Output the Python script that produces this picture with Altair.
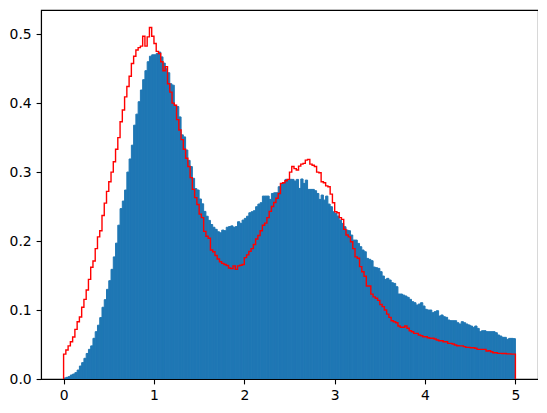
import altair as alt
import pandas as pd

BIN_W = 0.025
X_TICKS = [0, 1, 2, 3, 4, 5]
Y_TICKS = [0.0, 0.1, 0.2, 0.3, 0.4, 0.5]

blue_values = [
    0.0014, 0.0024, 0.0034, 0.0058, 0.0072, 0.0092, 0.013, 0.0188, 0.0237, 0.030,
    0.037, 0.043, 0.048, 0.059, 0.0686, 0.078, 0.089, 0.104, 0.115, 0.130,
    0.1425, 0.159, 0.177, 0.197, 0.223, 0.247, 0.258, 0.274, 0.300, 0.319,
    0.339, 0.368, 0.384, 0.402, 0.419, 0.434, 0.447, 0.460, 0.468, 0.470,
    0.470, 0.472, 0.474, 0.467, 0.458, 0.450, 0.444, 0.428, 0.426, 0.397,
    0.395, 0.380, 0.354, 0.351, 0.332, 0.317, 0.308, 0.291, 0.276, 0.274,
    0.261, 0.254, 0.243, 0.236, 0.230, 0.224, 0.220, 0.217, 0.2135, 0.212,
    0.2159, 0.215, 0.220, 0.221, 0.222, 0.220, 0.221, 0.228, 0.2256, 0.2304,
    0.2329, 0.236, 0.241, 0.2425, 0.244, 0.2498, 0.2536, 0.2556, 0.2652, 0.2652,
    0.2652, 0.2604, 0.269, 0.270, 0.270, 0.2788, 0.2836, 0.2845, 0.2894, 0.2884,
    0.2895, 0.2894, 0.2870, 0.2894, 0.2763, 0.2900, 0.2836, 0.2884, 0.2749, 0.2749,
    0.2749, 0.273, 0.269, 0.2604, 0.2667, 0.2594, 0.2652, 0.2536, 0.2498, 0.2425,
    0.2401, 0.2362, 0.2304, 0.2256, 0.2208, 0.2159, 0.215, 0.2087, 0.2014, 0.2014,
    0.1966, 0.1918, 0.187, 0.1845, 0.1749, 0.1735, 0.1715, 0.1623, 0.1614, 0.1604,
    0.1556, 0.1493, 0.1444, 0.1459, 0.1435, 0.1396, 0.1386, 0.1338, 0.1232, 0.1232,
    0.1217, 0.1203, 0.1184, 0.1155, 0.1121, 0.1106, 0.1072, 0.1087, 0.1106, 0.1058,
    0.101, 0.100, 0.100, 0.0961, 0.0976, 0.099, 0.0913, 0.0928, 0.0903, 0.0894,
    0.0855, 0.0845, 0.0845, 0.0845, 0.0816, 0.0797, 0.0831, 0.0816, 0.0797, 0.0783,
    0.0768, 0.0749, 0.0768, 0.0734, 0.0686, 0.070, 0.070, 0.0686, 0.0686, 0.0686,
    0.0686, 0.0671, 0.0638, 0.0623, 0.0604, 0.0604, 0.0575, 0.0589, 0.0589, 0.0585,
]

red_values = [
    0.036, 0.042, 0.048, 0.054, 0.061, 0.072, 0.083, 0.090, 0.104, 0.1155,
    0.129, 0.1445, 0.162, 0.171, 0.189, 0.206, 0.215, 0.237, 0.255, 0.272,
    0.286, 0.300, 0.315, 0.333, 0.350, 0.373, 0.390, 0.409, 0.424, 0.439,
    0.4575, 0.468, 0.477, 0.4805, 0.4826, 0.497, 0.4826, 0.496, 0.5096, 0.497,
    0.4865, 0.475, 0.472, 0.460, 0.447, 0.4527, 0.428, 0.416, 0.400, 0.397,
    0.376, 0.361, 0.347, 0.333, 0.320, 0.308, 0.292, 0.275, 0.263, 0.253,
    0.239, 0.234, 0.214, 0.207, 0.204, 0.187, 0.1845, 0.179, 0.174, 0.170,
    0.1676, 0.166, 0.1645, 0.161, 0.160, 0.164, 0.159, 0.164, 0.165, 0.166,
    0.176, 0.180, 0.185, 0.189, 0.195, 0.203, 0.208, 0.215, 0.223, 0.226,
    0.234, 0.243, 0.250, 0.256, 0.262, 0.269, 0.2836, 0.2845, 0.2874, 0.2894,
    0.300, 0.308, 0.305, 0.303, 0.3087, 0.3116, 0.3126, 0.3174, 0.3184, 0.3116,
    0.310, 0.308, 0.300, 0.299, 0.286, 0.2845, 0.280, 0.2787, 0.268, 0.2556,
    0.2425, 0.241, 0.234, 0.2314, 0.217, 0.2087, 0.206, 0.199, 0.189, 0.177,
    0.175, 0.163, 0.1555, 0.149, 0.1348, 0.1348, 0.123, 0.119, 0.117, 0.114,
    0.108, 0.105, 0.100, 0.094, 0.0894, 0.0845, 0.083, 0.0816, 0.0768, 0.075,
    0.075, 0.0768, 0.0735, 0.070, 0.0686, 0.0662, 0.0662, 0.0638, 0.0628, 0.0613,
    0.0613, 0.0599, 0.059, 0.059, 0.058, 0.0565, 0.0555, 0.0555, 0.054, 0.054,
    0.0517, 0.0517, 0.0507, 0.0493, 0.0483, 0.048, 0.048, 0.0469, 0.0459, 0.0459,
    0.0454, 0.0454, 0.0445, 0.043, 0.043, 0.043, 0.043, 0.0406, 0.041, 0.0396,
    0.0381, 0.0381, 0.0372, 0.0372, 0.037, 0.037, 0.0365, 0.0365, 0.036, 0.036,
]

n = len(blue_values)
blue_df = pd.DataFrame({
    "left": [i * BIN_W for i in range(n)],
    "right": [(i + 1) * BIN_W for i in range(n)],
    "value": blue_values,
})

# step outline: rise from 0 at the first edge, follow the bins, drop to 0 at the last edge
xs = [0.0] + [i * BIN_W for i in range(len(red_values))] + [len(red_values) * BIN_W] * 2
ys = [0.0] + list(red_values) + [red_values[-1], 0.0]
red_df = pd.DataFrame({"x": xs, "y": ys, "ord": list(range(len(xs)))})

x_scale = alt.Scale(domain=[-0.25, 5.25], nice=False, zero=False)
y_scale = alt.Scale(domain=[0, 0.535], nice=False, zero=False)

x_axis = alt.Axis(values=X_TICKS, format="d", title=None, grid=False)
y_axis = alt.Axis(values=Y_TICKS, format=".1f", title=None, grid=False)

bars = alt.Chart(blue_df).mark_rect(
    color="#1f77b4", stroke="#1f77b4", strokeWidth=1, strokeJoin="miter", clip=True
).encode(
    x=alt.X("left:Q", scale=x_scale, axis=x_axis),
    x2="right:Q",
    y=alt.Y("value:Q", scale=y_scale, axis=y_axis),
    y2=alt.datum(0),
)

step = alt.Chart(red_df).mark_line(
    color="red", strokeWidth=1.4, interpolate="step-after", clip=True
).encode(
    x=alt.X("x:Q", scale=x_scale),
    y=alt.Y("y:Q", scale=y_scale),
    order="ord:Q",
)

chart = alt.layer(bars, step).properties(
    width=497,
    height=369,
    autosize=alt.AutoSizeParams(type="none"),
    padding={"left": 33, "top": 2, "right": 0, "bottom": 26},
).configure_view(
    stroke="black", strokeWidth=1.1
).configure_axis(
    domainColor="black",
    domainWidth=1.1,
    tickColor="black",
    tickWidth=1.1,
    tickSize=4.9,
    labelColor="black",
    labelFont="DejaVu Sans",
    labelFontSize=13.9,
    labelPadding=4.9,
)

chart.save("out.html", embed_options={"renderer": "svg", "actions": False})
